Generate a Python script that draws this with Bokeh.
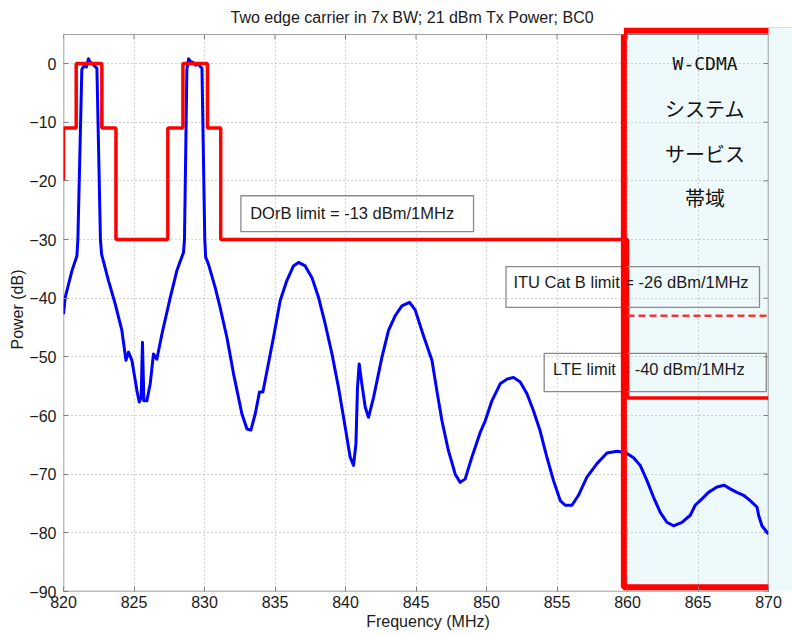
import numpy as np
from bokeh.plotting import figure
from bokeh.models import BoxAnnotation, FixedTicker, Range1d
from bokeh.core.properties import value
from bokeh.embed import file_html
from bokeh.resources import INLINE

# ---------------- data ----------------
title_text = "Two edge carrier in 7x BW; 21 dBm Tx Power; BC0"
x_label = "Frequency (MHz)"
y_label = "Power (dB)"
x_ticks = [820, 825, 830, 835, 840, 845, 850, 855, 860, 865, 870]
y_ticks = [-90, -80, -70, -60, -50, -40, -30, -20, -10, 0]

freq_mhz = [
    820.00, 820.12, 820.60, 820.95, 821.02, 821.30, 821.47, 821.62, 821.77, 821.90,
    822.04, 822.20, 822.37, 822.62, 822.70, 823.19, 823.67, 824.14, 824.43, 824.61,
    824.85, 825.21, 825.37, 825.51, 825.60, 825.70, 825.91, 826.15, 826.38, 826.62,
    826.98, 827.57, 828.04, 828.51, 828.58, 828.75, 828.87, 829.03, 829.20, 829.37,
    829.55, 829.70, 829.82, 830.02, 830.08, 830.28, 830.76, 831.11, 831.59, 832.06,
    832.65, 833.01, 833.29, 833.60, 833.90, 834.14, 834.43, 834.89, 835.37, 835.84,
    836.31, 836.67, 837.14, 837.62, 838.09, 838.56, 839.04, 839.50, 839.98, 840.33,
    840.57, 840.74, 840.85, 840.97, 841.16, 841.40, 841.63, 841.99, 842.58, 843.05,
    843.52, 844.00, 844.54, 844.94, 845.53, 846.13, 846.48, 846.84, 847.30, 847.78,
    848.13, 848.49, 848.96, 849.55, 849.91, 850.38, 850.97, 851.45, 851.91, 852.39,
    852.87, 853.33, 853.80, 854.28, 854.75, 855.23, 855.58, 856.06, 856.52, 857.12,
    857.83, 858.54, 859.25, 859.84, 860.43, 860.90, 861.38, 861.84, 862.32, 862.79,
    863.26, 863.86, 864.45, 864.80, 865.28, 865.74, 866.34, 866.86, 867.28, 867.76,
    868.23, 868.70, 869.18, 869.30, 869.53, 869.89, 870.00,
]
power_db = [
    -42.7, -39.9, -35.3, -32.8, -30.0, -1.0, -0.3, -0.6, 0.8, 0.2,
    0.0, -0.4, -0.8, -30.0, -32.5, -37.0, -41.0, -45.5, -50.6, -49.2,
    -50.6, -55.8, -57.7, -57.0, -47.5, -57.5, -57.5, -54.6, -49.5, -50.4,
    -46.1, -39.9, -35.3, -32.2, -30.0, -1.0, 0.8, 0.3, 0.2, -0.3,
    0.0, -0.5, -0.8, -30.0, -33.0, -34.2, -38.2, -41.6, -46.7, -52.9,
    -59.7, -62.3, -62.5, -59.7, -56.0, -56.0, -52.4, -46.7, -40.4, -37.0,
    -34.5, -33.9, -34.5, -36.5, -39.9, -44.4, -49.5, -55.2, -62.0, -67.1,
    -68.5, -64.8, -55.2, -51.2, -54.6, -58.6, -60.3, -56.9, -50.1, -45.5,
    -43.0, -41.3, -40.7, -42.0, -46.4, -50.6, -55.8, -60.9, -66.0, -70.0,
    -71.4, -70.8, -67.1, -62.9, -60.9, -57.5, -54.6, -53.8, -53.5, -54.3,
    -56.3, -59.2, -62.6, -67.1, -71.1, -74.5, -75.3, -75.3, -73.6, -70.5,
    -68.2, -66.4, -66.1, -66.3, -67.2, -68.5, -71.1, -73.9, -76.5, -78.2,
    -78.8, -78.2, -77.0, -75.3, -74.2, -73.1, -72.2, -71.9, -72.5, -73.1,
    -73.6, -74.5, -75.6, -77.0, -78.8, -79.9, -80.2,
]

# emission mask (DOrB limit, then LTE limit inside the W-CDMA band)
mask_freq = [820.0, 820.0, 820.9, 820.9, 822.72, 822.72, 823.72, 823.72, 827.4, 827.4,
             828.47, 828.47, 830.21, 830.21, 831.15, 831.15, 860.0, 860.0, 870.0]
mask_db = [-20, -11, -11, 0, 0, -11, -11, -30, -30, -11,
           -11, 0, 0, -11, -11, -30, -30, -57, -57]

itu_freq = [860.0, 870.0]
itu_db = [-43, -43]

band_start = 859.74  # W-CDMA system service band edge (MHz)

limit_labels = ["DOrB limit = -13 dBm/1MHz",
                "ITU Cat B limit = -26 dBm/1MHz",
                "LTE limit = -40 dBm/1MHz"]
band_labels = ["W-CDMA", "システム", "サービス", "帯域"]

# ---------------- layout / style ----------------
x_lim = (820, 870)
y_lim = (-90, 5)
FONT = "Liberation Sans"
GRAY = "#7f7f7f"
CYAN = "#eef9fb"

# label boxes (left, right, bottom, top) and text anchors
label_boxes = dict(left=[832.58, 851.38, 854.09], right=[849.08, 869.36, 869.84],
                   bottom=[-28.67, -41.57, -55.93], top=[-22.54, -34.63, -49.40])
label_text_x = [833.24, 851.91, 854.71]
label_text_y = [-25.4, -37.3, -52.1]
band_text_x = 865.5
band_text_y = [0.0, -7.7, -15.4, -22.9]

p = figure(width=792, height=635, output_backend="svg", toolbar_location=None,
           x_range=Range1d(820, 871.70), y_range=Range1d(-90, 6.14),
           min_border_left=63, min_border_right=0, min_border_top=27,
           min_border_bottom=44, title=title_text)
p.background_fill_color = "white"
p.border_fill_color = "white"
p.outline_line_color = None

p.title.text_font = FONT
p.title.text_font_size = "16px"
p.title.text_font_style = "normal"
p.title.text_color = "#1a1a1a"
p.title.align = "left"
p.title.offset = 167
p.title.standoff = 4

for ax in (p.xaxis[0], p.yaxis[0]):
    ax.axis_line_color = None
    ax.major_tick_in = 5
    ax.major_tick_out = 0
    ax.minor_tick_line_color = None
    ax.major_tick_line_color = GRAY
    ax.major_label_text_font = FONT
    ax.major_label_text_font_size = "16px"
    ax.major_label_text_color = "#1a1a1a"
    ax.axis_label_text_font = FONT
    ax.axis_label_text_font_size = "16px"
    ax.axis_label_text_font_style = "normal"
    ax.axis_label_text_color = "#1a1a1a"
p.xaxis.ticker = FixedTicker(ticks=x_ticks)
p.yaxis.ticker = FixedTicker(ticks=y_ticks)
p.xaxis.axis_label = x_label
p.yaxis.axis_label = y_label
p.xaxis.major_label_standoff = 4
p.xaxis.axis_label_standoff = 2
p.yaxis.major_label_standoff = 7
p.yaxis.axis_label_standoff = 0

p.grid.grid_line_color = "#a8a8a8"
p.grid.grid_line_dash = "1 3"
p.grid.grid_line_width = 1

# shaded W-CDMA band (under the grid), and cover beyond the axes box
p.add_layout(BoxAnnotation(left=band_start, fill_color=CYAN, fill_alpha=1,
                           line_color=None, level="image"))
p.add_layout(BoxAnnotation(left=x_lim[1], fill_color=CYAN, fill_alpha=1,
                           line_color=None, level="glyph"))
p.add_layout(BoxAnnotation(bottom=y_lim[1], right=band_start, fill_color="white",
                           fill_alpha=1, line_color=None, level="glyph"))

# axes box
p.quad(left=x_lim[0], right=x_lim[1], bottom=y_lim[0], top=y_lim[1],
       fill_color=None, line_color=GRAY, line_width=1.5)
# ticks on top and right side of the box
p.ray(x=x_ticks, y=[y_lim[1]] * len(x_ticks), length=5, length_units="screen",
      angle=-np.pi / 2, line_color=GRAY, line_width=1)
p.ray(x=[x_lim[1]] * len(y_ticks), y=y_ticks, length=5, length_units="screen",
      angle=np.pi, line_color=GRAY, line_width=1)

# spectrum
p.line(freq_mhz, power_db, line_color="#0000ff", line_width=3, line_join="round")
# mask
p.line(mask_freq, mask_db, line_color="#ff0000", line_width=3.5)
p.line(itu_freq, itu_db, line_color="#ec3a3a", line_width=2.5, line_dash="7 4")

# limit labels with boxes
p.quad(left=label_boxes["left"], right=label_boxes["right"],
       bottom=label_boxes["bottom"], top=label_boxes["top"],
       fill_color=None, line_color="#8a8a8a", line_width=1.3)
p.text(x=label_text_x, y=label_text_y, text=limit_labels,
       text_font=value(FONT), text_font_size="16.5px", text_color="#1a1a1a",
       text_baseline="middle", text_align="left")

# band labels
p.text(x=[band_text_x], y=band_text_y[:1], text=band_labels[:1],
       text_font=value("DejaVu Sans Mono"), text_font_size="18px", text_color="#111111",
       text_baseline="middle", text_align="center")
p.text(x=[band_text_x] * 3, y=band_text_y[1:], text=band_labels[1:],
       text_font=value("Noto Sans CJK JP"), text_font_size="20px", text_color="#111111",
       text_baseline="middle", text_align="center")

# red frame around the W-CDMA band
p.quad(left=band_start, right=874, bottom=-89.27, top=5.62,
       fill_color=None, line_color="#ff0000", line_width=6)

open("out.html", "w").write(file_html(p, INLINE))
